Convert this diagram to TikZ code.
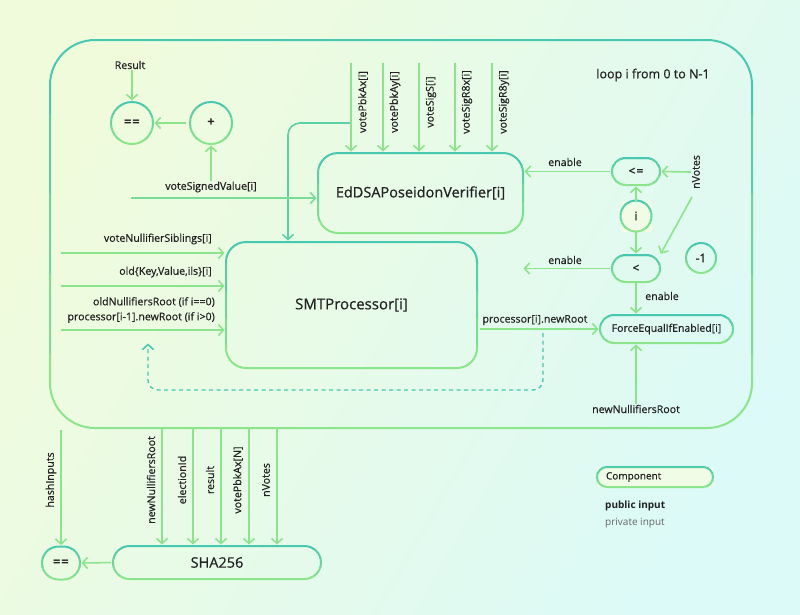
\documentclass[tikz,border=0pt]{standalone}
\usepackage{fontspec}
\setmainfont{Open Sans}
\newfontfamily\medf{Open Sans}[FakeBold=0.6]
\usetikzlibrary{arrows.meta,calc}
\definecolor{teal1}{RGB}{72,200,176}
\definecolor{green1}{RGB}{140,229,140}
\definecolor{txt}{RGB}{34,34,34}
\definecolor{bgA}{RGB}{240,251,220}
\definecolor{bgB}{RGB}{220,250,247}
\definecolor{pale}{RGB}{240,252,230}
\newcommand\gborder[2]{%
 \foreach \k in {0,...,4}{%
  \pgfmathtruncatemacro\mixv{100-25*\k}%
  \begin{scope}
   \clip let \p1=(#1.north west), \p2=(#1.south east) in
     ({\x1-6pt},{\y1+6pt-(\y1-\y2+12pt)*\k/5}) rectangle ({\x2+6pt},{\y1+6pt-(\y1-\y2+12pt)*(\k+1)/5});
   \draw[line width=2pt, draw=teal1!\mixv!green1, rounded corners=#2] (#1.south west) rectangle (#1.north east);
  \end{scope}}}
\tikzset{
 arr/.style={draw=green1, line width=1.6pt, -{Straight Barb[length=5pt,width=11pt,line width=1.6pt]}, shorten >=1.5pt},
 lbl/.style={text=txt, font=\medf\fontsize{10.6}{12}\selectfont, inner sep=1pt},
 bx/.style={draw=none, rectangle, outer sep=0pt, inner sep=0pt, text=txt},
}
\begin{document}
\begin{tikzpicture}[x=1pt,y=1pt]
\useasboundingbox (0,0) rectangle (800,-614);
\shade[left color=bgA, right color=bgB, shading angle=60] (0,0) rectangle (800,-614);

% loop box
\node[bx, minimum width=702pt, minimum height=388pt] (loop) at (401,-234) {};
\gborder{loop}{45pt}
\node[lbl, font=\medf\fontsize{12.5}{14}\selectfont] (looplbl) at (653,-75) {loop i from 0 to N-1};

% result compare
\node[lbl] (res) at (130,-65) {Result};
\node[bx, minimum size=42pt, font=\bfseries\fontsize{13}{14}\selectfont] (eqa) at (132,-123) {=\kern1pt=};
\gborder{eqa}{21pt}
\node[bx, minimum size=42pt, font=\bfseries\fontsize{13}{14}\selectfont] (plus) at (211,-123) {+};
\gborder{plus}{21pt}
\draw[arr] (eqa.north |- res.south) -- (eqa.north);
\draw[arr, shorten <=4pt] (plus.west) -- (eqa.east);
\node[lbl] (vsv) at (211,-187) {voteSignedValue[i]};
\draw[arr] (vsv.north) -- (plus.south);

% EdDSA
\node[bx, minimum width=205pt, minimum height=80pt, font=\medf\fontsize{14.5}{16}\selectfont] (ed) at (420.5,-193) {EdDSAPoseidonVerifier[i]};
\gborder{ed}{20pt}
\coordinate (vsvL) at (131,-198);

% SMT
\node[bx, minimum width=251pt, minimum height=126pt, font=\medf\fontsize{15}{17}\selectfont] (smt) at (351.5,-305) {SMTProcessor[i]};
\gborder{smt}{20pt}

% branch to SMT
\coordinate (br) at (351,-123);
\coordinate (brx) at (288,-123);
\draw[arr, draw=teal1!70!green1, rounded corners=12pt] (br) -- (brx) -- (brx |- smt.north);
\draw[arr, draw=green1!70!teal1] (vsvL) -- (vsvL -| ed.west);

% vote inputs
\foreach \x/\t [count=\n] in {351/votePbkAx[i], 383/votePbkAy[i], 419/voteSigS[i], 455/voteSigR8x[i], 492/voteSigR8y[i]}{
  \coordinate (vt\n) at (\x,-63);
  \draw[arr] (vt\n) -- (vt\n |- ed.north);
  \node[lbl, rotate=90] (vl\n) at (\x+12,-102) {\t};
}

% left inputs
\coordinate (in1) at (61,-253);
\coordinate (in2) at (61,-286);
\coordinate (in3) at (61,-330);
\draw[arr] (in1) -- (in1 -| smt.west);
\draw[arr] (in2) -- (in2 -| smt.west);
\draw[arr] (in3) -- (in3 -| smt.west);
\node[lbl, anchor=east] (l1) at (213,-239) {voteNullifierSiblings[i]};
\node[lbl, anchor=east] (l2) at (213,-272) {old\{Key,Value,ils\}[i]};
\node[lbl, anchor=east, align=right, font=\medf\fontsize{10.6}{15}\selectfont] (l3) at (216,-310) {oldNullifiersRoot (if i==0)\\processor[i-1].newRoot (if i>0)};

% ForceEqual
\node[bx, minimum width=133pt, minimum height=28pt, font=\medf\fontsize{10.5}{12}\selectfont] (fe) at (666.5,-329) {ForceEqualIfEnabled[i]};
\gborder{fe}{14pt}
\draw[arr, shorten <=3pt] (smt.east |- fe.west) -- (fe.west);
\node[lbl] (pnr) at (535,-320) {processor[i].newRoot};

% dashed feedback
\coordinate (fb) at (543,-333);
\coordinate (fb2) at (148,-342);
\draw[arr, draw=teal1, line width=1.4pt, dash pattern=on 4pt off 3.5pt, rounded corners=10pt] (fb) -- (543,-390) -- (148,-390) -- (fb2);

\node[lbl] (nnr) at (636,-409) {newNullifiersRoot};
\draw[arr] (nnr.north) -- (nnr.north |- fe.south);

% comparators
\node[bx, minimum width=48pt, minimum height=27pt, font=\bfseries\fontsize{12}{14}\selectfont] (le) at (636,-171.5) {<\kern1pt=};
\gborder{le}{13.5pt}
\node[bx, minimum width=48pt, minimum height=27pt, font=\bfseries\fontsize{12}{14}\selectfont] (lt) at (636,-268.5) {<};
\gborder{lt}{13.5pt}
\node[bx, minimum size=31pt, fill=pale, font=\medf\fontsize{12}{14}\selectfont] (iv) at (636,-216) {i};
\gborder{iv}{15.5pt}
\node[bx, minimum size=30pt, font=\medf\fontsize{12}{14}\selectfont] (m1) at (701,-258) {-1};
\gborder{m1}{15pt}
\node[lbl, rotate=90] (nv) at (696,-172) {nVotes};
\coordinate (nvd) at (692,-197);
\coordinate (ltl) at (522,-268.5);

\draw[arr, shorten <=2pt] (le.west) -- (le.west -| ed.east);
\node[lbl] (en1) at (565,-162) {enable};
\draw[arr] (nv.north) -- (le.east);
\draw[arr] (iv.north) -- (le.south);
\draw[arr] (iv.south) -- (lt.north);
\draw[arr] (nvd) -- (lt.north east);
\draw[arr, shorten <=2pt] (lt.west) -- (ltl);
\node[lbl] (en2) at (565,-260) {enable};
\draw[arr] (lt.south) -- (lt.south |- fe.north);
\node[lbl] (en3) at (662,-296) {enable};

% bottom
\node[bx, minimum width=38pt, minimum height=33pt, font=\bfseries\fontsize{13}{14}\selectfont] (eqb) at (61,-563) {=\kern1pt=};
\gborder{eqb}{16.5pt}
\node[bx, minimum width=208pt, minimum height=33pt, font=\medf\fontsize{14.5}{16}\selectfont] (sha) at (217,-562.5) {SHA256};
\gborder{sha}{16.5pt}
\draw[arr, shorten <=2pt] (sha.west) -- (eqb.east);
\node[lbl, rotate=90] (hi) at (51,-480) {hashInputs};
\coordinate (hit) at (61,-430);
\draw[arr] (hit) -- (hit |- eqb.north);
\foreach \x/\t [count=\n] in {162/newNullifiersRoot, 193/electionId, 221/result, 249/votePbkAx[N], 277/nVotes}{
  \coordinate (b\n) at (\x,-428);
  \draw[arr] (b\n) -- (b\n |- sha.north);
  \node[lbl, rotate=90] (bl\n) at (\x-11,-480) {\t};
}

% legend
\node[bx, minimum width=116pt, minimum height=20pt, fill=pale, text width=98pt, align=left, inner xsep=9pt, font=\medf\fontsize{10}{12}\selectfont] (comp) at (655,-477) {Component};
\gborder{comp}{10pt}
\node[lbl, anchor=west, font=\bfseries\fontsize{10}{12}\selectfont] (pub) at (604,-506) {public input};
\node[lbl, anchor=west, font=\fontsize{10}{12}\selectfont, text=black!60] (priv) at (604,-523) {private input};
\end{tikzpicture}
\end{document}
